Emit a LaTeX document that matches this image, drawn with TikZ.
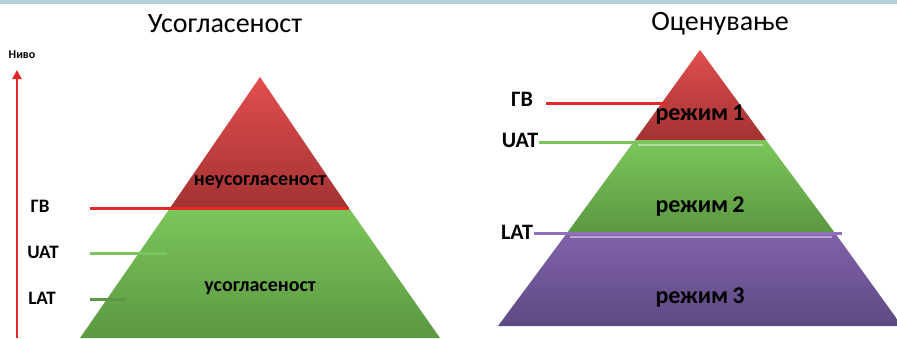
\documentclass[tikz,border=0pt]{standalone}
\usepackage{fontspec}
\setmainfont{Carlito}
\usetikzlibrary{arrows.meta}
\usetikzlibrary{positioning}
\definecolor{redtop}{HTML}{E24E4E}
\definecolor{redbot}{HTML}{A33232}
\definecolor{greentop}{HTML}{7CC65A}
\definecolor{greenbot}{HTML}{5B9842}
\definecolor{purptop}{HTML}{8062AA}
\definecolor{purpbot}{HTML}{5E4A82}
\definecolor{linered}{HTML}{E02828}
\definecolor{linegreen}{HTML}{7CC460}
\definecolor{linedkgreen}{HTML}{5E9648}
\definecolor{linepurp}{HTML}{9070B8}
\definecolor{strip}{HTML}{B4D2DC}

\begin{document}
\begin{tikzpicture}[x=1pt, y=-1pt,
      title/.style ={font=\fontsize{28}{30}\selectfont, inner sep=0pt},
      level/.style ={font=\bfseries\fontsize{19}{21}\selectfont, inner sep=0pt},
      levelR/.style ={font=\bfseries\fontsize{22}{24}\selectfont, inner sep=0pt},
      zone/.style  ={font=\bfseries\fontsize{20}{22}\selectfont, inner sep=0pt},
      mode/.style  ={font=\bfseries\fontsize{24}{26}\selectfont, inner sep=0pt},
      mark line/.style={line width=3pt},
      gloss/.style ={line width=1.2pt, white, opacity=0.45}
    ]
    \useasboundingbox (0,0) rectangle (897,338);
    \fill [strip] (0,0) rectangle (897,4);
    % left pyramid
    \shade [top color=redtop, bottom color=redbot] (260,77) -- (349,208) -- (170,208) -- cycle;
    \shade [top color=greentop, bottom color=greenbot] (170,208) -- (349,208) -- (440,338) -- (80,338) -- cycle;
    \node [title] (titleL) at (225,24) {Усогласеност};
    \node [zone] (nonconf) at (260,182) {неусогласеност};
    \node [zone] (conf) at (260,288) {усогласеност};
    \node [font=\bfseries\fontsize{12}{13}\selectfont, inner sep=0pt] (nivo) at (22,55) {Ниво};
    \coordinate (axisB) at (17,338);
    \coordinate (axisT) at (17,70);
    \draw [-{Triangle[width=9pt,length=9pt]}, linered, line width=2.6pt] (axisB) -- (axisT);
    \node [level] (gvL) at (40,206) {ГВ};
    \node [level] (uatL) at (43,252) {UAT};
    \node [level] (latL) at (42,298) {LAT};
    \coordinate (gvLend) at (349,208);
    \coordinate (uatLend) at (167,253);
    \coordinate (latLend) at (125,299);
    \draw [mark line, linered] (90,208) -- (gvLend);
    \draw [mark line, linegreen] (90,253) -- (uatLend);
    \draw [mark line, linedkgreen] (90,299) -- (latLend);
    % right pyramid
    \shade [top color=redtop, bottom color=redbot] (700,50) -- (766,140) -- (635,140) -- cycle;
    \shade [top color=greentop, bottom color=greenbot] (635,140) -- (766,140) -- (835,233) -- (567,233) -- cycle;
    \shade [top color=purptop, bottom color=purpbot] (567,233) -- (835,233) -- (902,326) -- (498,326) -- cycle;
    \draw [gloss] (638,145) -- (763,145);
    \draw [gloss] (570,237) -- (832,237);
    \node [title] (titleR) at (720,24) {Оценување};
    \node [mode] (mode1) at (700,115) {режим\,1};
    \node [mode] (mode2) at (700,207) {режим\,2};
    \node [mode] (mode3) at (700,298) {режим\,3};
    \node [levelR] (gvR) at (522,99) {ГВ};
    \node [levelR] (uatR) at (520,140) {UAT};
    \node [levelR] (latR) at (517,232) {LAT};
    \coordinate (gvRend) at (667,103);
    \coordinate (uatRend) at (766,142);
    \coordinate (latRend) at (842,233);
    \draw [mark line, linered] (546,103) -- (gvRend);
    \draw [mark line, linegreen] (uatR.east) ++(1,2) -- (uatRend);
    \draw [mark line, linepurp] (latR.east) ++(1,1) -- (latRend);
\end{tikzpicture}
\end{document}
